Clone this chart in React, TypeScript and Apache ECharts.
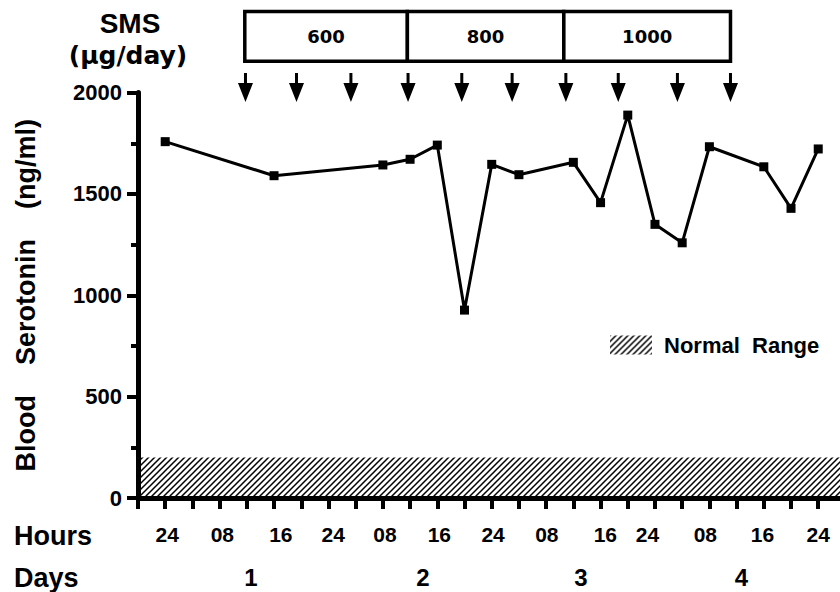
import React, { useEffect, useRef } from 'react';
import * as echarts from 'echarts';

// ---- Data ----
const sampleHours = [4, 20, 36, 40, 44, 48, 52, 56, 64, 68, 72, 76, 80, 84, 92, 96, 100];
const serotonin = [1758, 1590, 1643, 1671, 1741, 927, 1646, 1595, 1656, 1457, 1889, 1350, 1259, 1733, 1634, 1429, 1722];

const doseLabels = ['600', '800', '1000'];
const doseStartHours = [15.7, 39.6, 62.6];
const doseEndHours = [39.6, 62.6, 87.1];
const doseTimes = [15.8, 23.3, 31.3, 39.7, 47.6, 55.0, 62.9, 70.6, 79.3, 87.1];

const normalRangeMax = 200;
const normalRangeHours = [0, 103.2];

const xTickHours = [0, 4, 8, 12, 16, 20, 24, 28, 32, 36, 40, 44, 48, 52, 56, 60, 64, 68, 72, 76, 80, 84, 88, 92, 96, 100];
const hourLabelPositions = [4.3, 12.4, 21.0, 28.7, 36.3, 44.3, 52.2, 60.1, 68.7, 74.9, 83.4, 91.8, 100];
const hourLabels = ['24', '08', '16', '24', '08', '16', '24', '08', '16', '24', '08', '16', '24'];
const dayLabelPositions = [16.6, 41.9, 65.1, 88.7];
const dayLabels = ['1', '2', '3', '4'];

const X_MIN = 0;
const X_MAX = 103.2;
const Y_MIN = 0;
const Y_MAX = 2000;
const Y_INTERVAL = 500;

// annotation levels (in data units, above the plot)
const ARROW_LEVEL = 2025;
const BOX_TOP = 2400;
const BOX_BOTTOM = 2155;

const FONT = "'Liberation Sans', Arial, sans-serif";
const FONT_WIDE = "'DejaVu Sans', 'Liberation Sans', sans-serif";

const hatchSvg =
  "<svg xmlns='http://www.w3.org/2000/svg' width='6' height='6'>" +
  "<path d='M-1,1L1,-1M0,6L6,0M5,7L7,5' stroke='#000' stroke-width='1.5'/></svg>";
const hatch: any = {
  image: 'data:image/svg+xml;charset=utf-8,' + encodeURIComponent(hatchSvg),
  repeat: 'repeat',
  imageWidth: 6,
  imageHeight: 6,
};

const arrowPath = 'path://M6,0 L9,0 L9,10 L15,10 L7.5,29 L0,10 L6,10 Z';

export default function App() {
  const ref = useRef<HTMLDivElement>(null);

  useEffect(() => {
    if (!ref.current) return;
    const chart = echarts.init(ref.current, null, { renderer: 'svg' });

    const hourMap = new Map<number, string>();
    hourLabelPositions.forEach((p, i) => hourMap.set(p, hourLabels[i]));
    const dayMap = new Map<number, string>();
    dayLabelPositions.forEach((p, i) => dayMap.set(p, dayLabels[i]));

    const option: any = {
      animation: false,
      backgroundColor: '#fff',
      grid: {
        left: 138,
        right: 0,
        top: 92.6,
        bottom: 94,
        containLabel: false,
        outerBoundsMode: 'none',
      },
      legend: {
        left: 610,
        top: 334,
        padding: 0,
        itemWidth: 42,
        itemHeight: 19,
        itemGap: 10,
        selectedMode: false,
        data: [
          {
            name: 'Normal  Range',
            icon: 'rect',
            itemStyle: { color: hatch, borderWidth: 0 },
          },
        ],
        textStyle: {
          fontFamily: FONT,
          fontWeight: 'bold',
          fontSize: 22,
          color: '#000',
          padding: [0, 0, 0, 7],
        },
      },
      xAxis: [
        {
          type: 'value',
          min: X_MIN,
          max: X_MAX,
          z: 10,
          axisLine: { show: true, onZero: false, lineStyle: { color: '#000', width: 5 } },
          axisTick: {
            show: true,
            customValues: xTickHours,
            length: 11,
            lineStyle: { color: '#000', width: 4 },
          },
          splitLine: { show: false },
          axisLabel: {
            customValues: hourLabelPositions,
            formatter: (v: number) => hourMap.get(v) ?? '',
            margin: 26,
            fontFamily: FONT,
            fontWeight: 'bold',
            fontSize: 21,
            color: '#000',
          },
        },
        {
          type: 'value',
          min: X_MIN,
          max: X_MAX,
          position: 'bottom',
          axisLine: { show: false },
          axisTick: { show: false },
          splitLine: { show: false },
          axisLabel: {
            customValues: dayLabelPositions,
            formatter: (v: number) => dayMap.get(v) ?? '',
            margin: 67,
            fontFamily: FONT,
            fontWeight: 'bold',
            fontSize: 24,
            color: '#000',
          },
        },
      ],
      yAxis: {
        type: 'value',
        min: Y_MIN,
        max: Y_MAX,
        interval: Y_INTERVAL,
        z: 10,
        name: 'Blood    Serotonin    (ng/ml)',
        nameLocation: 'middle',
        nameRotate: 90,
        nameGap: 99,
        nameTextStyle: {
          fontFamily: FONT,
          fontWeight: 'bold',
          fontSize: 27,
          color: '#000',
        },
        axisLine: { show: true, onZero: false, lineStyle: { color: '#000', width: 5 } },
        axisTick: { show: true, length: 11, lineStyle: { color: '#000', width: 4 } },
        minorTick: { show: true, splitNumber: 2, length: 7, lineStyle: { color: '#000', width: 4 } },
        splitLine: { show: false },
        axisLabel: {
          margin: 16,
          formatter: (v: number) => String(v),
          fontFamily: FONT,
          fontWeight: 'bold',
          fontSize: 22,
          color: '#000',
        },
      },
      graphic: [
        {
          type: 'text',
          x: 130,
          y: 23,
          style: {
            text: 'SMS',
            fontFamily: FONT,
            fontWeight: 'bold',
            fontSize: 28,
            fill: '#000',
            align: 'center',
            verticalAlign: 'middle',
          },
        },
        {
          type: 'text',
          x: 128,
          y: 55,
          style: {
            text: '(\u03bcg/day)',
            fontFamily: FONT_WIDE,
            fontWeight: 'bold',
            fontSize: 25,
            fill: '#000',
            align: 'center',
            verticalAlign: 'middle',
          },
        },
        {
          type: 'text',
          x: 14,
          y: 536,
          style: {
            text: 'Hours',
            fontFamily: FONT,
            fontWeight: 'bold',
            fontSize: 27,
            fill: '#000',
            align: 'left',
            verticalAlign: 'middle',
          },
        },
        {
          type: 'text',
          x: 14,
          y: 578,
          style: {
            text: 'Days',
            fontFamily: FONT,
            fontWeight: 'bold',
            fontSize: 27,
            fill: '#000',
            align: 'left',
            verticalAlign: 'middle',
          },
        },
      ],
      series: [
        {
          name: 'Normal  Range',
          type: 'line',
          data: [
            [normalRangeHours[0], normalRangeMax],
            [normalRangeHours[1], normalRangeMax],
          ],
          symbol: 'none',
          lineStyle: { width: 0, color: '#000' },
          itemStyle: { color: hatch },
          areaStyle: { color: hatch, opacity: 1 },
          z: 1,
          silent: true,
        },
        {
          name: 'Serotonin',
          type: 'line',
          data: sampleHours.map((h, i) => [h, serotonin[i]]),
          symbol: 'rect',
          symbolSize: 9,
          lineStyle: { color: '#000', width: 3 },
          itemStyle: { color: '#000', opacity: 1 },
          z: 5,
        },
        {
          name: 'Dose',
          type: 'scatter',
          data: doseTimes.map((t) => [t, ARROW_LEVEL]),
          symbol: arrowPath,
          symbolSize: [15, 29],
          itemStyle: { color: '#000', opacity: 1 },
          clip: false,
          z: 6,
        },
        {
          name: 'SMS dose',
          type: 'custom',
          clip: false,
          data: doseStartHours.map((s, i) => [s, doseEndHours[i]]),
          encode: { x: [0, 1] },
          renderItem: (params: any, api: any) => {
            const p0 = api.coord([api.value(0), BOX_TOP]);
            const p1 = api.coord([api.value(1), BOX_BOTTOM]);
            return {
              type: 'group',
              children: [
                {
                  type: 'rect',
                  shape: { x: p0[0], y: p0[1], width: p1[0] - p0[0], height: p1[1] - p0[1] },
                  style: { fill: '#fff', stroke: '#000', lineWidth: 3.5 },
                },
                {
                  type: 'text',
                  x: (p0[0] + p1[0]) / 2,
                  y: (p0[1] + p1[1]) / 2,
                  style: {
                    text: doseLabels[params.dataIndex],
                    fontFamily: FONT_WIDE,
                    fontWeight: 'bold',
                    fontSize: 18,
                    fill: '#000',
                    align: 'center',
                    verticalAlign: 'middle',
                  },
                },
              ],
            };
          },
          z: 6,
        },
      ],
    };

    chart.setOption(option);
    return () => chart.dispose();
  }, []);

  return (
    <div
      ref={ref}
      style={{ position: 'absolute', left: 0, top: 0, width: 840, height: 592, background: '#fff' }}
    />
  );
}
